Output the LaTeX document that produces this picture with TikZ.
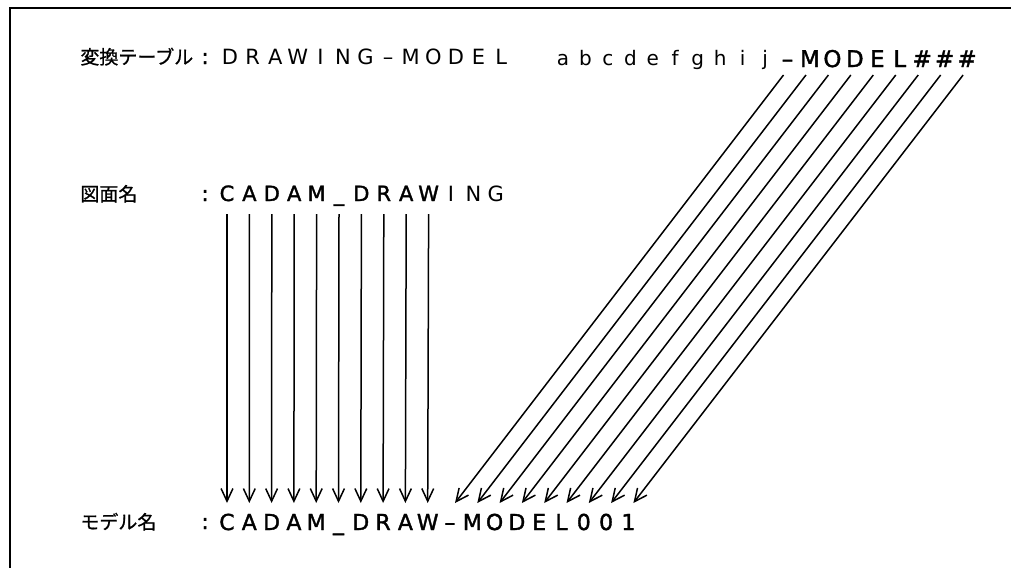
\documentclass[tikz,border=0pt]{standalone}
\usepackage{fontspec}
\setmainfont{DejaVu Sans}
\newfontfamily\medfont[FakeBold=1.6]{DejaVu Sans}
\newfontfamily\jpfont[FakeBold=0.8]{Noto Sans CJK JP}
\usetikzlibrary{arrows.meta,calc}

\begin{document}
\begin{tikzpicture}[x=0.5pt, y=-0.5pt,
    chr/.style={inner sep=0pt, anchor=base, font=\fontsize{10.5}{12}\selectfont},
    bchr/.style={chr, font=\medfont\fontsize{10.5}{12}\selectfont},
    lbl/.style={inner sep=0pt, anchor=base west, font=\jpfont\fontsize{9.5}{11}\selectfont},
    arr/.style={-{Straight Barb[angle=50:7pt]}, line width=0.75pt}]

    \useasboundingbox (0,0) rectangle (1011,568);

    % Frame
    \draw[line width=1pt] (1011,8) -- (10,8) -- (10,568);

    % Row labels
    \node[lbl] (tbl) at (80,64) {変換テーブル};
    \node[lbl] (dwg) at (80,201) {図面名};
    \node[lbl] (mdl) at (80,529) {モデル名};

    % Colons
    \node[bchr] (col1) at (205,64) {:};
    \node[bchr] (col2) at (205,201) {:};
    \node[bchr] (col3) at (205,529) {:};

    % Conversion table
    \foreach \c [count=\i from 0] in {D,R,A,W,I,N,G,–,M,O,D,E,L}
        \node[chr] (d\i) at (230+22.6*\i,64) {\c};
    \foreach \c [count=\i from 0] in {a,b,c,d,e,f,g,h,i,j}
        \node[chr, font=\fontsize{10}{12}\selectfont] (t\i) at (563+22.45*\i,65) {\c};
    \foreach \c [count=\i from 10] in {–,M,O,D,E,L,\#,\#,\#}
        \node[bchr, font=\medfont\fontsize{11.5}{13}\selectfont] (t\i) at (563+22.45*\i,67) {\c};

    % Drawing name
    \foreach \c [count=\i from 0] in {C,A,D,A,M,\_,D,R,A,W,I,N,G}
        \node[chr] (m\i) at (227+22.4*\i,201) {\ifnum\i<10 \medfont\fi\c};

    % Model name
    \foreach \c [count=\i from 0] in {C,A,D,A,M,\_,D,R,A,W,–,M,O,D,E,L,0,0,1}
        \node[bchr, font=\medfont\fontsize{11}{13}\selectfont] (b\i) at (227+22.3*\i,530) {\c};

    % Connections
    \foreach \i in {0,...,9}
        \draw[arr] ($(m\i.base)+(0,13)$) -- ($(b\i.base)+(0,-27)$);
    \foreach \i in {10,...,18}
        \draw[arr] ($(t\i.base)+(-4,8)$) -- ($(b\i.base)+(5,-27)$);
\end{tikzpicture}
\end{document}
